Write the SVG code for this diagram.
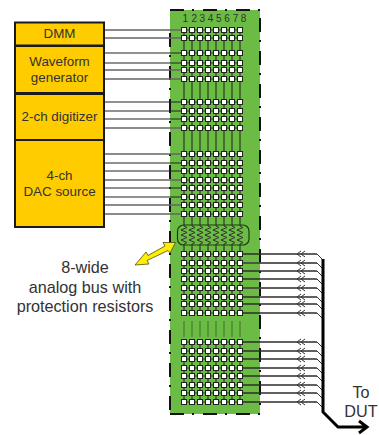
<svg xmlns="http://www.w3.org/2000/svg" width="379" height="435" viewBox="0 0 379 435">
<style>
.b{fill:#ffcc00;stroke:#1a1a1a;stroke-width:2}
.t{font-family:"Liberation Sans",Arial,sans-serif;font-size:13.4px;fill:#333;text-anchor:middle}
.l{font-size:16.2px}
.w{stroke:#222;stroke-width:1.2;fill:none}
.g{stroke:#666;stroke-width:1.6;fill:none}
.v{stroke:#263f18;stroke-width:1.2;fill:none}
.s{fill:#fff;stroke:#222;stroke-width:1}
.a{stroke:#333;stroke-width:1;fill:none}
.d{fill:none;stroke:#111;stroke-width:2;stroke-dasharray:14 8 2 9}
</style>
<defs>
<g id="r">
<path d="M184 0H240" stroke="#263f18" stroke-width="1.200" fill="none"/>
<rect class="s" x="181.500" y="-2.500" width="5" height="5"/><rect class="s" x="189.500" y="-2.500" width="5" height="5"/><rect class="s" x="197.500" y="-2.500" width="5" height="5"/><rect class="s" x="205.500" y="-2.500" width="5" height="5"/><rect class="s" x="213.500" y="-2.500" width="5" height="5"/><rect class="s" x="221.500" y="-2.500" width="5" height="5"/><rect class="s" x="229.500" y="-2.500" width="5" height="5"/><rect class="s" x="237.500" y="-2.500" width="5" height="5"/>
</g>
<g id="ar"><path class="a" d="M0 0H77l5 5M61 -3l-4 3 4 3M65 -3l-4 3 4 3"/></g>
<polyline id="z" class="a" points="0,0 3,1.500 -3,4 3,6.500 -3,9 3,11.500 -3,14 3,16.500 0,18" fill="none"/>
</defs>
<g id="matrix">
<rect x="170" y="10" width="90" height="404" fill="#6cbb45"/>
<path class="d" d="M170 10H260"/>
<path class="d" d="M170 414H260"/>
<path class="d" d="M170 33V414"/>
<path class="d" d="M260 18V414"/>
<text x="182.500 191.500 199.500 207.700 216 224.300 232.700 240.700" y="22" font-family="Liberation Sans,Arial,sans-serif" font-size="10" fill="#333">12345678</text>
</g>
<g id="connectors">
<path class="v" d="M184 30V226M192 30V226M200 30V226M208 30V226M216 30V226M224 30V226M232 30V226M240 30V226"/>
<path class="v" d="M184 244V316M192 244V316M200 244V316M208 244V316M216 244V316M224 244V316M232 244V316M240 244V316"/>
<path class="v" stroke-opacity=".5" d="M184 321V337M192 321V337M200 321V337M208 321V337M216 321V337M224 321V337M232 321V337M240 321V337"/>
<path class="v" d="M184 342V402M192 342V402M200 342V402M208 342V402M216 342V402M224 342V402M232 342V402M240 342V402"/>
<path class="g" d="M104 30H184M104 38H184M104 70H184M104 79H184M104 128H184M104 154H184M104 180H184M104 205H184M104 214H184"/>
<path class="w" d="M104 53H184M104 63H184M104 102H184M104 111H184M104 119H184M104 163H184M104 171H184M104 188H184M104 197H184"/>
<path class="w" d="M240 254H317M240 271H317M240 279H317M240 297H317M240 304H317M240 313H317"/>
<path class="g" d="M240 263H317M240 288H317"/>
<path class="w" d="M240 342H317M240 351H317M240 359H317M240 368H317M240 376H317M240 385H317M240 393H317M240 402H317"/>
<g id="arrows">
<use href="#ar" x="240" y="254"/><use href="#ar" x="240" y="263"/><use href="#ar" x="240" y="271"/><use href="#ar" x="240" y="279"/><use href="#ar" x="240" y="288"/><use href="#ar" x="240" y="297"/><use href="#ar" x="240" y="304"/><use href="#ar" x="240" y="313"/>
<use href="#ar" x="240" y="342"/><use href="#ar" x="240" y="351"/><use href="#ar" x="240" y="359"/><use href="#ar" x="240" y="368"/><use href="#ar" x="240" y="376"/><use href="#ar" x="240" y="385"/><use href="#ar" x="240" y="393"/><use href="#ar" x="240" y="402"/>
</g>
<path d="M323 259V412L338 427H366M359 421L367 427L359 433" fill="none" stroke="#000" stroke-width="3"/>
<path id="yellow-arrow" d="M175.500 242.500L163 242.500L165 246L148 255.500L146 252L135 265L149 264L147 260.500L168 250.500L170 253Z" fill="#ffee00" stroke="#4d4d10" stroke-width=".8"/>
</g>
<g id="switches">
<use href="#r" y="30"/><use href="#r" y="38"/><use href="#r" y="53"/><use href="#r" y="63"/><use href="#r" y="70"/><use href="#r" y="79"/><use href="#r" y="102"/><use href="#r" y="111"/><use href="#r" y="119"/><use href="#r" y="128"/>
<use href="#r" y="154"/><use href="#r" y="163"/><use href="#r" y="171"/><use href="#r" y="180"/><use href="#r" y="188"/><use href="#r" y="197"/><use href="#r" y="205"/><use href="#r" y="214"/>
<use href="#r" y="254"/><use href="#r" y="263"/><use href="#r" y="271"/><use href="#r" y="279"/><use href="#r" y="288"/><use href="#r" y="297"/><use href="#r" y="304"/><use href="#r" y="313"/>
<use href="#r" y="342"/><use href="#r" y="351"/><use href="#r" y="359"/><use href="#r" y="368"/><use href="#r" y="376"/><use href="#r" y="385"/><use href="#r" y="393"/><use href="#r" y="402"/>
</g>
<g id="bus">
<rect x="177.500" y="225" width="71.500" height="20" rx="6" fill="none" stroke="#1f3a10" stroke-width="1.200"/>
<use href="#z" x="184" y="226"/><use href="#z" x="192" y="226"/><use href="#z" x="200" y="226"/><use href="#z" x="208" y="226"/><use href="#z" x="216" y="226"/><use href="#z" x="224" y="226"/><use href="#z" x="232" y="226"/><use href="#z" x="240" y="226"/>
</g>
<g id="dmm"><rect class="b" x="15" y="22.500" width="89" height="23"/><text class="t" x="59.500" y="38">DMM</text></g>
<g id="waveform"><rect class="b" x="15" y="46" width="89" height="47"/><text class="t" x="59.500" y="66">Waveform</text><text class="t" x="59.500" y="82">generator</text></g>
<g id="digitizer"><rect class="b" x="15" y="94" width="89" height="46"/><text class="t" x="59.500" y="121">2-ch digitizer</text></g>
<g id="dac"><rect class="b" x="15" y="140" width="89" height="87"/><text class="t" x="59.500" y="180">4-ch</text><text class="t" x="59.500" y="196">DAC source</text></g>
<g id="bus-label"><text class="t l" x="85" y="273">8-wide</text><text class="t l" x="85" y="293">analog bus with</text><text class="t l" x="85" y="312">protection resistors</text></g>
<g id="dut"><text class="t l" x="361" y="398">To</text><text class="t l" x="361" y="417">DUT</text></g>
</svg>
